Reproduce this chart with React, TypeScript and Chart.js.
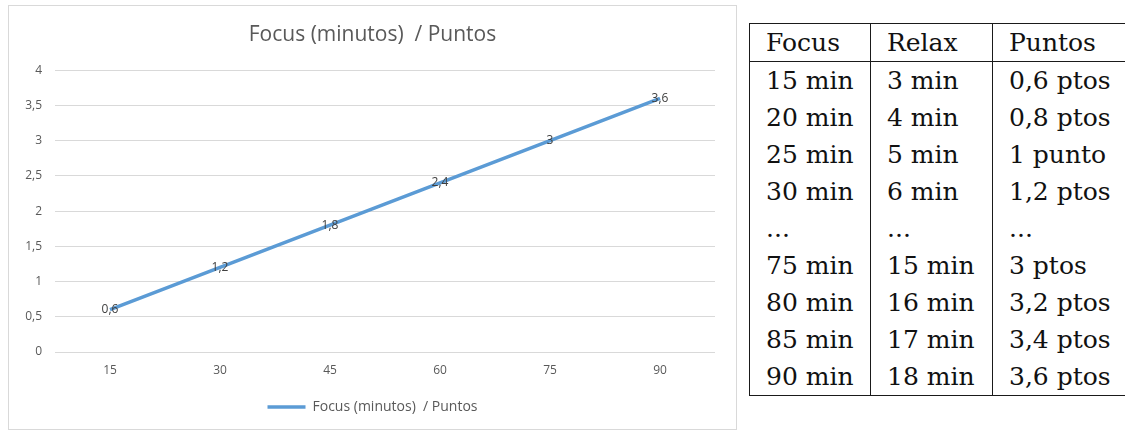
import React, { useEffect, useRef } from "react";
import { Chart, registerables } from "chart.js";

Chart.register(...registerables);

const chartTitle = "Focus (minutos)  / Puntos";
const categories = ["15", "30", "45", "60", "75", "90"];
const puntos = [0.6, 1.2, 1.8, 2.4, 3, 3.6];
const yMin = 0;
const yMax = 4;
const yStep = 0.5;

const tableHeader = ["Focus", "Relax", "Puntos"];
const focusCol = ["15 min", "20 min", "25 min", "30 min", "...", "75 min", "80 min", "85 min", "90 min"];
const relaxCol = ["3 min", "4 min", "5 min", "6 min", "...", "15 min", "16 min", "17 min", "18 min"];
const puntosCol = ["0,6 ptos", "0,8 ptos", "1 punto", "1,2 ptos", "...", "3 ptos", "3,2 ptos", "3,4 ptos", "3,6 ptos"];

const fmt = (v: number) => String(v).replace(".", ",");
const FONT = "'Open Sans', Lato, sans-serif";

const dataLabels = {
  id: "dataLabels",
  afterDatasetsDraw(chart: any) {
    const ctx = chart.ctx;
    const meta = chart.getDatasetMeta(0);
    ctx.save();
    ctx.font = `12px ${FONT}`;
    ctx.fillStyle = "#404040";
    ctx.textAlign = "center";
    ctx.textBaseline = "middle";
    meta.data.forEach((pt: any, i: number) => {
      ctx.fillText(fmt(puntos[i]), pt.x, pt.y);
    });
    ctx.restore();
  },
};

function LineChart() {
  const ref = useRef<HTMLCanvasElement | null>(null);
  useEffect(() => {
    if (!ref.current) return;
    const chart = new Chart(ref.current, {
      type: "line",
      data: {
        labels: categories,
        datasets: [
          {
            label: chartTitle,
            data: puntos,
            borderColor: "#5B9BD5",
            backgroundColor: "#5B9BD5",
            borderWidth: 3.5,
            pointRadius: 0,
            tension: 0,
          },
        ],
      },
      options: {
        animation: false,
        responsive: false,
        layout: { padding: { left: 0, right: 0, top: 0, bottom: 5 } },
        plugins: {
          title: {
            display: true,
            text: chartTitle,
            color: "#595959",
            font: { family: FONT, size: 21, weight: "normal" },
            padding: { top: 16, bottom: 23 },
          },
          legend: {
            display: true,
            position: "bottom",
            labels: {
              color: "#595959",
              font: { family: FONT, size: 14 },
              usePointStyle: true,
              pointStyle: "line",
              pointStyleWidth: 38,
              padding: 10,
            },
          },
          tooltip: { enabled: false },
        },
        scales: {
          x: {
            offset: true,
            grid: { display: false, drawTicks: false },
            border: { display: false },
            ticks: { color: "#595959", font: { family: FONT, size: 12 }, padding: 11 },
            afterFit: (s: any) => {
              s.height = 38;
            },
          },
          y: {
            min: yMin,
            max: yMax,
            grid: { color: "#d9d9d9", lineWidth: 1, drawTicks: false },
            border: { display: false },
            ticks: {
              stepSize: yStep,
              color: "#595959",
              font: { family: FONT, size: 12 },
              padding: 13,
              callback: (v: any) => fmt(Number(v)),
            },
            afterFit: (s: any) => {
              s.width = 46;
            },
          },
          yRightSpacer: {
            position: "right",
            display: true,
            grid: { display: false, drawTicks: false },
            border: { display: false },
            ticks: { display: false },
            afterFit: (s: any) => {
              s.width = 21;
            },
          },
        },
      },
      plugins: [dataLabels],
    });
    return () => chart.destroy();
  }, []);
  return <canvas ref={ref} width={727} height={423} style={{ display: "block", width: 727, height: 423 }} />;
}

export default function App() {
  const cellStyle: React.CSSProperties = {
    borderLeft: "1.3px solid #1a1a1a",
    borderRight: "1.3px solid #1a1a1a",
    padding: "0 0 0 16px",
    height: 37,
    textAlign: "left",
    verticalAlign: "middle",
    fontWeight: "normal",
    whiteSpace: "nowrap",
  };
  const rows = focusCol.map((f, i) => [f, relaxCol[i], puntosCol[i]]);
  return (
    <div style={{ position: "fixed", left: 0, top: 0, width: 1125, height: 432, overflow: "hidden", background: "#fff" }}>
      <div style={{ position: "absolute", left: 8, top: 5, width: 727, height: 423, border: "1px solid #d9d9d9" }}>
        <LineChart />
      </div>
      <table
        style={{
          position: "absolute",
          left: 749,
          top: 23,
          borderCollapse: "collapse",
          fontFamily: "'DejaVu Serif', serif",
          fontSize: 25,
          color: "#111",
          border: "1.3px solid #1a1a1a",
          tableLayout: "fixed",
          width: 385,
        }}
      >
        <colgroup>
          <col style={{ width: 121 }} />
          <col style={{ width: 122 }} />
          <col style={{ width: 142 }} />
        </colgroup>
        <thead>
          <tr style={{ borderBottom: "1.3px solid #1a1a1a" }}>
            {tableHeader.map((h) => (
              <th key={h} style={cellStyle}>{h}</th>
            ))}
          </tr>
        </thead>
        <tbody>
          {rows.map((r, i) => (
            <tr key={i}>
              {r.map((c, j) => (
                <td key={j} style={cellStyle}>{c}</td>
              ))}
            </tr>
          ))}
        </tbody>
      </table>
    </div>
  );
}
